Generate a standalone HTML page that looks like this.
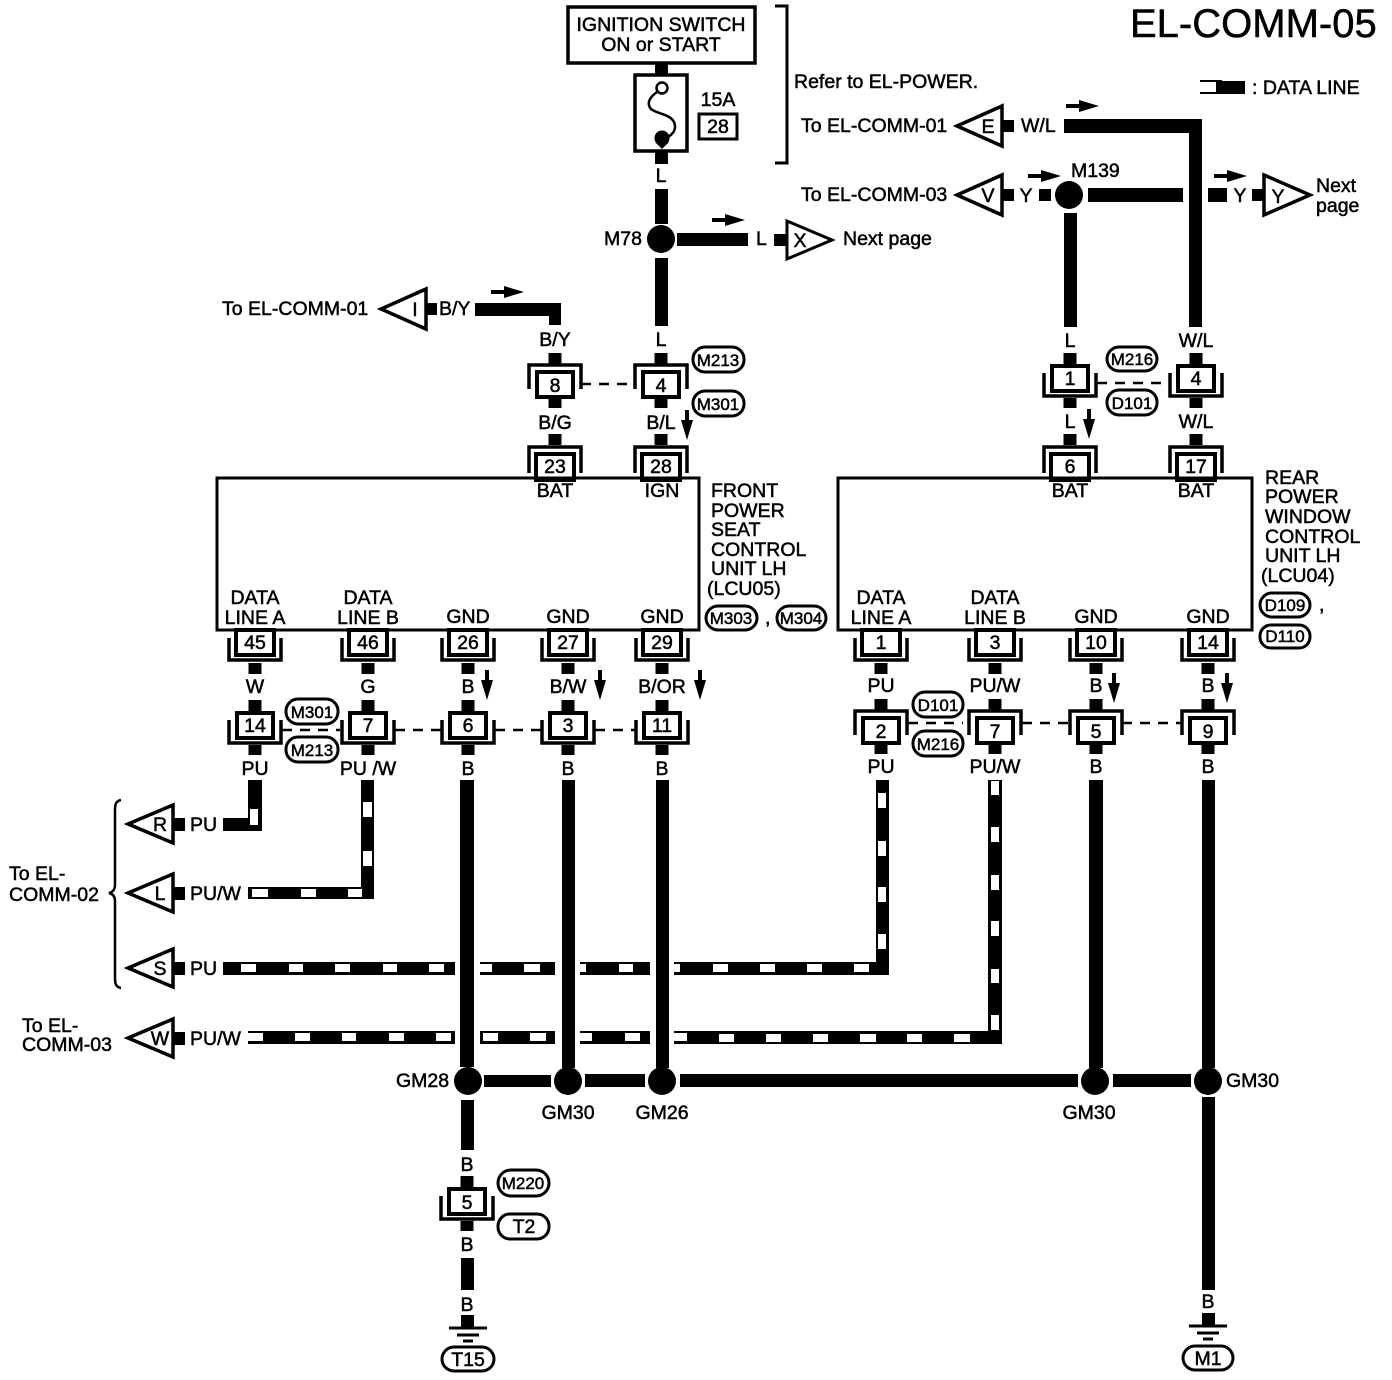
<!DOCTYPE html>
<html><head><meta charset="utf-8"><title>EL-COMM-05</title>
<style>
html,body{margin:0;padding:0;background:#fff}
svg{display:block}
text{font-family:"Liberation Sans",sans-serif;font-size:19.5px;fill:#000;stroke:#000;stroke-width:.5px}
.m{text-anchor:middle}
.p{font-size:17px;text-anchor:middle;stroke-width:.5px}
.w{fill:#fff}
.o{fill:none;stroke:#000;stroke-width:3.5}
</style></head><body>
<svg width="1392" height="1380" viewBox="0 0 1392 1380" xmlns="http://www.w3.org/2000/svg">
<defs>
<g id="ct"><rect x="-6.5" y="-31" width="13" height="11"/><rect x="-6.5" y="13" width="13" height="11"/><path class="o" d="M-26,5V-19H26V5"/><rect x="-18" y="-12" width="36" height="25" fill="#fff" stroke="#000" stroke-width="4"/></g>
<g id="cu"><rect x="-6.5" y="-25" width="13" height="13"/><rect x="-6.5" y="20" width="13" height="10"/><path class="o" d="M-26,-5V18H26V-5"/><rect x="-18" y="-12" width="36" height="25" fill="#fff" stroke="#000" stroke-width="4"/></g>
<g id="cb"><rect x="-6.5" y="19" width="13" height="11"/><path class="o" d="M-26,-6V16H26V-6"/><rect x="-19" y="-14" width="38" height="25" fill="#fff" stroke="#000" stroke-width="4"/></g>
<g id="ci"><rect x="-6.5" y="-31" width="13" height="11"/><path class="o" d="M-26,8V-18H26V8"/><rect x="-19" y="-11" width="38" height="26" fill="#fff" stroke="#000" stroke-width="4"/></g>
<g id="ar"><rect x="0" y="-2" width="18" height="4"/><polygon points="13,-6 33,0 13,6"/></g>
<g id="ad"><rect x="-2" y="0" width="4" height="16"/><polygon points="-6,10 6,10 0,30"/></g>
<g id="g"><path d="M-19,0H19M-11,7H11M-5,13H5" stroke="#000" stroke-width="3"/></g>
</defs>

<text x="1130" y="37" style="font-size:40px">EL-COMM-05</text>

<!-- Ignition and fuse -->
<rect x="568" y="7" width="187" height="56" fill="#fff" stroke="#000" stroke-width="3.5"/>
<text class="m" x="661" y="31">IGNITION SWITCH</text>
<text class="m" x="661" y="51">ON or START</text>
<rect x="655" y="64" width="13" height="12"/>
<rect x="635" y="75" width="52" height="76" fill="#fff" stroke="#000" stroke-width="3.5"/>
<circle cx="662" cy="88" r="5.5" fill="#fff" stroke="#000" stroke-width="2.5"/>
<path d="M657,92C650,97 646,103 651,109C657,114 670,114 674,122C677,129 673,134 668,137" fill="none" stroke="#000" stroke-width="2.5"/>
<circle cx="662" cy="138" r="7.5"/><polygon points="655,142 669,142 662,149"/>
<rect x="655" y="151" width="13" height="13"/>
<text class="m" x="661" y="182">L</text>
<text class="m" x="718" y="106">15A</text>
<rect x="699" y="114" width="38" height="25" fill="#fff" stroke="#000" stroke-width="3"/>
<text class="m" x="718" y="133">28</text>
<path d="M775,6H787V163H775" fill="none" stroke="#000" stroke-width="3"/>
<text x="794" y="88">Refer to EL-POWER.</text>

<!-- Legend -->
<path d="M1200,81H1222M1200,93H1222" stroke="#000" stroke-width="2"/><rect x="1216" y="81" width="29" height="13"/>
<text x="1252" y="94">: DATA LINE</text>

<!-- Top right wires -->
<text x="801" y="132">To EL-COMM-01</text>
<polygon points="957,126 1002,106 1002,146" fill="#fff" stroke="#000" stroke-width="3.5"/>
<text class="m" x="988" y="133">E</text>
<rect x="1003" y="120" width="11" height="12"/>
<text x="1021" y="132">W/L</text>
<path d="M1064,119H1202V327H1189V133H1064Z"/>
<use href="#ar" x="1066" y="106"/>

<text x="801" y="201">To EL-COMM-03</text>
<polygon points="957,195 1002,175 1002,215" fill="#fff" stroke="#000" stroke-width="3.5"/>
<text class="m" x="988" y="202">V</text>
<rect x="1003" y="189" width="11" height="12"/>
<text class="m" x="1026" y="202">Y</text>
<rect x="1039" y="189" width="12" height="12"/>
<use href="#ar" x="1028" y="176"/>
<circle cx="1069" cy="195" r="14"/>
<text x="1071" y="177">M139</text>
<rect x="1088" y="188" width="95" height="14"/>
<rect x="1064" y="213" width="13" height="114"/>
<rect x="1208" y="188" width="19" height="14"/>
<use href="#ar" x="1214" y="176"/>
<text class="m" x="1240" y="202">Y</text>
<rect x="1252" y="189" width="12" height="12"/>
<polygon points="1264,175 1310,195 1264,215" fill="#fff" stroke="#000" stroke-width="3.5"/>
<text class="m" x="1278" y="203">Y</text>
<text x="1316" y="192">Next</text>
<text x="1316" y="212">page</text>

<!-- M78 -->
<rect x="655" y="189" width="13" height="35"/>
<circle cx="661" cy="239" r="14"/>
<rect x="655" y="258" width="13" height="68"/>
<text x="604" y="245">M78</text>
<rect x="677" y="233" width="71" height="13"/>
<use href="#ar" x="712" y="220"/>
<text x="756" y="245">L</text>
<rect x="774" y="234" width="12" height="12"/>
<polygon points="787,221 832,240 787,259" fill="#fff" stroke="#000" stroke-width="3"/>
<text class="m" x="800" y="247">X</text>
<text x="843" y="245">Next page</text>

<!-- B/Y -->
<text x="222" y="315">To EL-COMM-01</text>
<polygon points="381,309 426,289 426,329" fill="#fff" stroke="#000" stroke-width="3.5"/>
<text class="m" x="415" y="316">I</text>
<rect x="427" y="303" width="10" height="12"/>
<text x="439" y="315">B/Y</text>
<path d="M475,303H561V325H549V316H475Z"/>
<use href="#ar" x="491" y="292"/>
<text class="m" x="555" y="346">B/Y</text>
<text class="m" x="661" y="346">L</text>

<!-- Top connectors left -->
<use href="#ct" x="555" y="384"/><text class="m" x="555" y="392">8</text>
<use href="#ct" x="661" y="384"/><text class="m" x="661" y="392">4</text>
<path d="M581,384H635" stroke="#000" stroke-width="2.5" stroke-dasharray="10 8"/>
<rect x="693" y="347" width="51" height="25" rx="12" fill="#fff" stroke="#000" stroke-width="3"/><text class="p" x="718" y="366">M213</text>
<rect x="693" y="391" width="51" height="25" rx="12" fill="#fff" stroke="#000" stroke-width="3"/><text class="p" x="718" y="410">M301</text>
<text class="m" x="555" y="429">B/G</text>
<text class="m" x="661" y="429">B/L</text>
<use href="#ad" x="687" y="410"/>

<!-- Top connectors right -->
<use href="#cu" x="1070" y="378"/><text class="m" x="1070" y="385">1</text>
<use href="#cu" x="1196" y="378"/><text class="m" x="1196" y="385">4</text>
<path d="M1097,383H1170" stroke="#000" stroke-width="2.5" stroke-dasharray="10 8"/>
<text class="m" x="1070" y="347">L</text><text class="m" x="1196" y="347">W/L</text>
<rect x="1107" y="347" width="50" height="24" rx="12" fill="#fff" stroke="#000" stroke-width="3"/><text class="p" x="1132" y="365">M216</text>
<rect x="1107" y="390" width="50" height="25" rx="12" fill="#fff" stroke="#000" stroke-width="3"/><text class="p" x="1132" y="409">D101</text>
<text class="m" x="1070" y="428">L</text><text class="m" x="1196" y="428">W/L</text>
<use href="#ad" x="1089" y="409"/>

<!-- IC top connectors -->
<use href="#ci" x="555" y="465"/><text class="m" x="555" y="473">23</text>
<use href="#ci" x="661" y="465"/><text class="m" x="661" y="473">28</text>
<use href="#ci" x="1070" y="465"/><text class="m" x="1070" y="473">6</text>
<use href="#ci" x="1196" y="465"/><text class="m" x="1196" y="473">17</text>

<!-- Units -->
<path d="M217,478H699V630H217Z" fill="none" stroke="#000" stroke-width="3"/>
<path d="M838,478H1252V630H838Z" fill="none" stroke="#000" stroke-width="3"/>
<text class="m" x="555" y="497">BAT</text><text class="m" x="662" y="497">IGN</text>
<text class="m" x="1070" y="497">BAT</text><text class="m" x="1196" y="497">BAT</text>
<text x="711" y="497">FRONT</text><text x="711" y="517">POWER</text><text x="711" y="536">SEAT</text><text x="711" y="556">CONTROL</text><text x="711" y="575">UNIT LH</text><text x="707" y="595">(LCU05)</text>
<rect x="706" y="606" width="51" height="24" rx="12" fill="#fff" stroke="#000" stroke-width="3"/><text class="p" x="731" y="624">M303</text>
<text x="765" y="624">,</text>
<rect x="777" y="606" width="49" height="24" rx="12" fill="#fff" stroke="#000" stroke-width="3"/><text class="p" x="801" y="624">M304</text>
<text x="1265" y="484">REAR</text><text x="1265" y="503">POWER</text><text x="1265" y="523">WINDOW</text><text x="1265" y="543">CONTROL</text><text x="1265" y="562">UNIT LH</text><text x="1261" y="582">(LCU04)</text>
<rect x="1260" y="593" width="50" height="24" rx="12" fill="#fff" stroke="#000" stroke-width="3"/><text class="p" x="1285" y="611">D109</text>
<text x="1319" y="611">,</text>
<rect x="1260" y="625" width="50" height="23" rx="11" fill="#fff" stroke="#000" stroke-width="3"/><text class="p" x="1285" y="642">D110</text>

<text class="m" x="255" y="604">DATA</text><text class="m" x="255" y="624">LINE A</text>
<text class="m" x="368" y="604">DATA</text><text class="m" x="368" y="624">LINE B</text>
<text class="m" x="468" y="623">GND</text><text class="m" x="568" y="623">GND</text><text class="m" x="662" y="623">GND</text>
<text class="m" x="881" y="604">DATA</text><text class="m" x="881" y="624">LINE A</text>
<text class="m" x="995" y="604">DATA</text><text class="m" x="995" y="624">LINE B</text>
<text class="m" x="1096" y="623">GND</text><text class="m" x="1208" y="623">GND</text>

<!-- IC bottom connectors -->
<use href="#cb" x="255" y="644"/><text class="m" x="255" y="649">45</text>
<use href="#cb" x="368" y="644"/><text class="m" x="368" y="649">46</text>
<use href="#cb" x="468" y="644"/><text class="m" x="468" y="649">26</text>
<use href="#cb" x="568" y="644"/><text class="m" x="568" y="649">27</text>
<use href="#cb" x="662" y="644"/><text class="m" x="662" y="649">29</text>
<use href="#cb" x="881" y="644"/><text class="m" x="881" y="649">1</text>
<use href="#cb" x="995" y="644"/><text class="m" x="995" y="649">3</text>
<use href="#cb" x="1096" y="644"/><text class="m" x="1096" y="649">10</text>
<use href="#cb" x="1208" y="644"/><text class="m" x="1208" y="649">14</text>

<text class="m" x="255" y="693">W</text><text class="m" x="368" y="693">G</text><text class="m" x="468" y="693">B</text><text class="m" x="568" y="693">B/W</text><text class="m" x="662" y="693">B/OR</text>
<text class="m" x="881" y="692">PU</text><text class="m" x="995" y="692">PU/W</text><text class="m" x="1096" y="692">B</text><text class="m" x="1208" y="692">B</text>
<use href="#ad" x="487" y="670"/><use href="#ad" x="600" y="670"/><use href="#ad" x="700" y="670"/><use href="#ad" x="1114" y="673"/><use href="#ad" x="1227" y="673"/>

<!-- Row 2 left -->
<use href="#cu" x="255" y="725"/><text class="m" x="255" y="732">14</text>
<use href="#cu" x="368" y="725"/><text class="m" x="368" y="732">7</text>
<use href="#cu" x="468" y="725"/><text class="m" x="468" y="732">6</text>
<use href="#cu" x="568" y="725"/><text class="m" x="568" y="732">3</text>
<use href="#cu" x="662" y="725"/><text class="m" x="662" y="732">11</text>
<path d="M282,730H340M395,730H442M495,730H542M595,730H636" stroke="#000" stroke-width="2.5" stroke-dasharray="10 8"/>
<rect x="286" y="699" width="52" height="25" rx="12" fill="#fff" stroke="#000" stroke-width="3"/><text class="p" x="312" y="718">M301</text>
<rect x="286" y="737" width="52" height="25" rx="12" fill="#fff" stroke="#000" stroke-width="3"/><text class="p" x="312" y="756">M213</text>

<!-- Row 2 right -->
<use href="#ct" x="881" y="730"/><text class="m" x="881" y="738">2</text>
<use href="#ct" x="995" y="730"/><text class="m" x="995" y="738">7</text>
<use href="#ct" x="1096" y="730"/><text class="m" x="1096" y="738">5</text>
<use href="#ct" x="1208" y="730"/><text class="m" x="1208" y="738">9</text>
<path d="M908,723H963M1022,723H1068M1122,723H1182" stroke="#000" stroke-width="2.5" stroke-dasharray="10 8"/>
<rect x="913" y="692" width="50" height="25" rx="12" fill="#fff" stroke="#000" stroke-width="3"/><text class="p" x="938" y="711">D101</text>
<rect x="913" y="731" width="50" height="25" rx="12" fill="#fff" stroke="#000" stroke-width="3"/><text class="p" x="938" y="750">M216</text>

<text class="m" x="255" y="775">PU</text><text class="m" x="368" y="775">PU /W</text><text class="m" x="468" y="775">B</text><text class="m" x="568" y="775">B</text><text class="m" x="662" y="775">B</text>
<text class="m" x="881" y="773">PU</text><text class="m" x="995" y="773">PU/W</text><text class="m" x="1096" y="773">B</text><text class="m" x="1208" y="773">B</text>

<!-- Data wires -->
<path d="M248,780H262V831H223V818H248Z"/>
<rect class="w" x="250" y="809" width="8" height="16"/>
<path d="M361,780H374V899H248V887H361Z"/>
<rect class="w" x="363" y="802" width="9" height="15"/><rect class="w" x="363" y="851" width="9" height="15"/>
<rect class="w" x="252" y="889" width="16" height="8"/><rect class="w" x="301" y="889" width="15" height="8"/><rect class="w" x="348" y="889" width="14" height="8"/>

<!-- PU S line -->
<path d="M223,962H455V975H223ZM480,962H555V975H480ZM580,962H650V975H580ZM674,962H876V780H889V975H674Z"/>
<g class="w">
<rect x="241" y="964" width="15" height="8"/><rect x="289" y="964" width="14" height="8"/><rect x="335" y="964" width="15" height="8"/><rect x="383" y="964" width="14" height="8"/><rect x="429" y="964" width="15" height="8"/>
<rect x="480" y="964" width="12" height="8"/><rect x="524" y="964" width="16" height="8"/><rect x="580" y="964" width="6" height="8"/><rect x="619" y="964" width="14" height="8"/><rect x="674" y="964" width="6" height="8"/><rect x="713" y="964" width="15" height="8"/><rect x="760" y="964" width="15" height="8"/><rect x="807" y="964" width="15" height="8"/><rect x="854" y="964" width="15" height="8"/>
<rect x="878" y="793" width="8" height="15"/><rect x="878" y="841" width="8" height="15"/><rect x="878" y="887" width="8" height="15"/><rect x="878" y="934" width="8" height="15"/>
</g>

<!-- PU/W W line -->
<path d="M248,1031H455V1044H248ZM480,1031H555V1044H480ZM580,1031H650V1044H580ZM674,1031H988V780H1002V1044H674Z"/>
<g class="w">
<rect x="248" y="1033" width="15" height="8"/><rect x="295" y="1033" width="15" height="8"/><rect x="342" y="1033" width="14" height="8"/><rect x="389" y="1033" width="15" height="8"/><rect x="436" y="1033" width="15" height="8"/>
<rect x="483" y="1033" width="15" height="8"/><rect x="530" y="1033" width="16" height="8"/><rect x="580" y="1033" width="12" height="8"/><rect x="625" y="1033" width="15" height="8"/><rect x="674" y="1033" width="13" height="8"/>
<rect x="719" y="1034" width="15" height="8"/><rect x="766" y="1034" width="15" height="8"/><rect x="813" y="1034" width="15" height="8"/><rect x="860" y="1034" width="16" height="8"/><rect x="907" y="1034" width="15" height="8"/><rect x="954" y="1034" width="16" height="8"/>
<rect x="991" y="781" width="8" height="14"/><rect x="991" y="827" width="8" height="15"/><rect x="991" y="875" width="8" height="15"/><rect x="991" y="921" width="8" height="15"/><rect x="991" y="969" width="8" height="14"/><rect x="991" y="1015" width="8" height="15"/>
</g>

<!-- Left harness triangles -->
<g fill="#fff" stroke="#000" stroke-width="3.5">
<polygon points="128,824 173,805 173,843"/><polygon points="128,893 173,874 173,912"/><polygon points="128,968 173,949 173,987"/><polygon points="128,1038 173,1019 173,1057"/>
</g>
<text class="m" x="160" y="831">R</text><text class="m" x="160" y="900">L</text><text class="m" x="160" y="975">S</text><text class="m" x="160" y="1045">W</text>
<rect x="174" y="818" width="11" height="13"/><rect x="174" y="887" width="11" height="13"/><rect x="174" y="962" width="11" height="13"/><rect x="174" y="1032" width="11" height="13"/>
<text x="190" y="831">PU</text><text x="190" y="900">PU/W</text><text x="190" y="975">PU</text><text x="190" y="1045">PU/W</text>
<path d="M121,800C116,801 115,804 115,810V885C115,889 113,892 109,893C113,894 115,897 115,901V978C115,984 116,987 121,988" fill="none" stroke="#000" stroke-width="2.5"/>
<text x="9" y="880">To EL-</text><text x="9" y="901">COMM-02</text>
<text x="22" y="1032">To EL-</text><text x="22" y="1051">COMM-03</text>

<!-- Ground verticals -->
<rect x="460" y="780" width="14" height="287"/>
<rect x="562" y="780" width="13" height="288"/>
<rect x="656" y="780" width="13" height="288"/>
<rect x="1089" y="780" width="14" height="288"/>
<rect x="1202" y="780" width="13" height="288"/>

<!-- Bus -->
<rect x="484" y="1075" width="67" height="12"/>
<rect x="585" y="1074" width="60" height="13"/>
<rect x="680" y="1074" width="398" height="13"/>
<rect x="1113" y="1074" width="78" height="13"/>
<circle cx="468" cy="1081" r="14"/><circle cx="568" cy="1081" r="14"/><circle cx="662" cy="1081" r="14"/><circle cx="1095" cy="1081" r="14"/><circle cx="1208" cy="1081" r="14"/>
<text x="396" y="1087">GM28</text>
<text class="m" x="568" y="1119">GM30</text><text class="m" x="662" y="1119">GM26</text><text class="m" x="1089" y="1119">GM30</text>
<text x="1226" y="1087">GM30</text>

<!-- Bottom left -->
<rect x="461" y="1100" width="13" height="50"/>
<text class="m" x="467" y="1171">B</text>
<use href="#cu" x="467" y="1201"/><text class="m" x="467" y="1209">5</text>
<rect x="498" y="1170" width="51" height="26" rx="13" fill="#fff" stroke="#000" stroke-width="3"/><text class="p" x="523" y="1189">M220</text>
<rect x="498" y="1214" width="51" height="25" rx="12" fill="#fff" stroke="#000" stroke-width="3"/><text class="m" x="524" y="1233">T2</text>
<text class="m" x="467" y="1251">B</text>
<rect x="461" y="1258" width="13" height="32"/>
<text class="m" x="467" y="1311">B</text>
<rect x="461" y="1315" width="13" height="12"/>
<use href="#g" x="468" y="1328"/>
<rect x="442" y="1347" width="52" height="24" rx="12" fill="#fff" stroke="#000" stroke-width="3"/><text class="m" x="468" y="1366">T15</text>

<!-- Bottom right -->
<rect x="1202" y="1097" width="13" height="193"/>
<text class="m" x="1208" y="1308">B</text>
<rect x="1202" y="1313" width="13" height="12"/>
<use href="#g" x="1208" y="1326"/>
<rect x="1183" y="1346" width="50" height="24" rx="12" fill="#fff" stroke="#000" stroke-width="3"/><text class="m" x="1208" y="1365">M1</text>
</svg>
</body></html>
